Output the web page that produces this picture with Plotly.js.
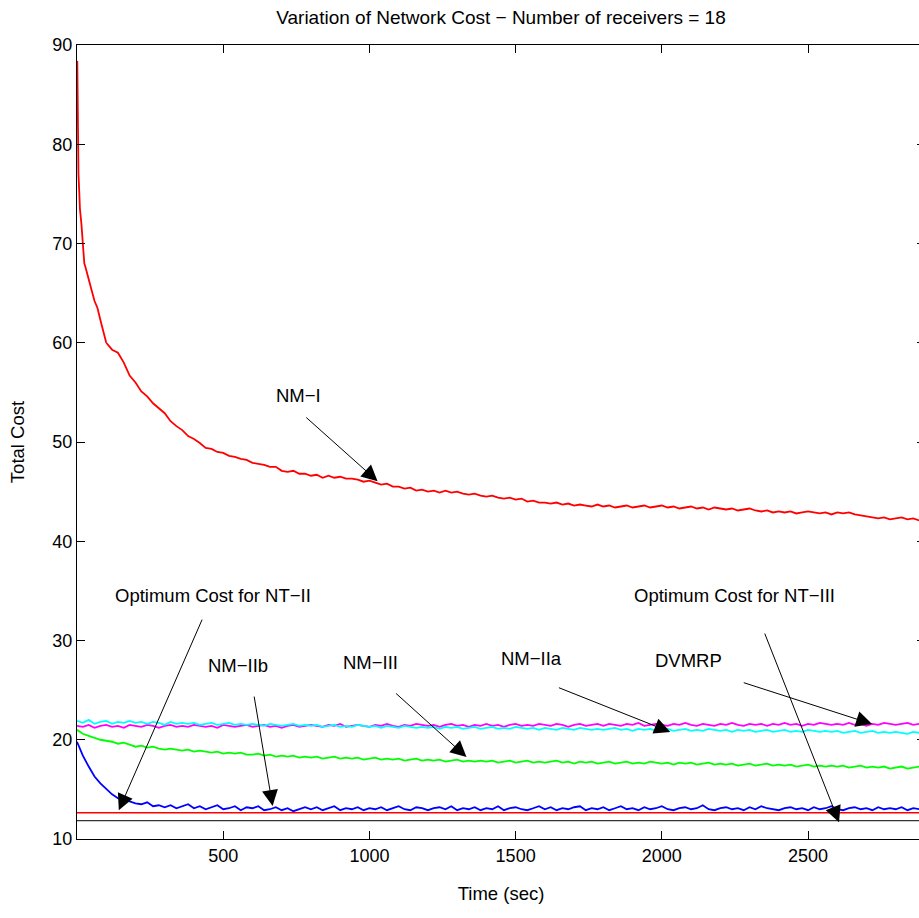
<!DOCTYPE html>
<html>
<head>
<meta charset="utf-8">
<script src="https://cdn.plot.ly/plotly-3.0.1.min.js"></script>
<style>
html,body{margin:0;padding:0;overflow:hidden;background:#fff;}
#chart{width:930px;height:918px;}
</style>
</head>
<body>
<div id="chart"></div>
<script>
// ---- data ----
const xTickVals = [500, 1000, 1500, 2000, 2500];
const yTickVals = [10, 20, 30, 40, 50, 60, 70, 80, 90];

// NM-I (red): early part (explicit times) and later part (every 20 s from 100 s)
const nmIEarlyT = [1, 2, 3, 5, 8, 10, 15, 20, 25, 30, 40, 50, 60, 70, 80, 90, 100];
const nmIEarlyV = [88.4, 84, 80, 77, 75, 73.5, 72, 70, 68, 67.5, 66.5, 65.3, 64.2, 63.5, 62.3, 61, 60];
const nmILateV = [
60.0,59.3,59.0,58.0,56.7,56.0,55.1,54.6,53.9,53.4,
52.9,52.1,51.6,51.2,50.6,50.3,49.9,49.4,49.3,49.0,
48.9,48.6,48.5,48.3,48.2,47.9,47.8,47.7,47.5,47.5,
47.1,47.0,47.1,46.8,46.8,46.6,46.7,46.4,46.6,46.4,
46.5,46.3,46.3,46.2,46.0,46.1,45.9,45.7,45.8,45.5,
45.5,45.3,45.4,45.1,45.2,45.0,45.1,44.9,45.1,44.9,
45.0,44.8,44.7,44.8,44.6,44.5,44.6,44.4,44.3,44.4,
44.2,44.3,44.0,44.1,43.9,43.9,43.8,43.9,43.7,43.8,
43.6,43.7,43.6,43.5,43.7,43.5,43.6,43.4,43.5,43.6,
43.4,43.5,43.6,43.4,43.5,43.6,43.4,43.5,43.3,43.4,
43.5,43.3,43.4,43.2,43.4,43.3,43.2,43.3,43.1,43.2,
43.3,43.1,43.0,43.1,42.9,43.0,42.9,43.0,42.8,42.9,
43.0,42.9,42.8,42.9,42.7,42.9,42.8,42.9,42.7,42.6,
42.5,42.4,42.3,42.4,42.2,42.3,42.4,42.2,42.3,42.1,
42.3];

// DVMRP (magenta), every 20 s from 0 s
const dvmrpV = [
21.4,21.3,21.5,21.2,21.4,21.5,21.3,21.4,21.2,21.5,
21.4,21.3,21.5,21.4,21.2,21.4,21.5,21.3,21.4,21.3,
21.5,21.4,21.3,21.4,21.2,21.5,21.4,21.3,21.4,21.5,
21.3,21.4,21.5,21.3,21.4,21.2,21.4,21.5,21.3,21.4,
21.5,21.4,21.3,21.5,21.4,21.6,21.3,21.4,21.5,21.4,
21.3,21.5,21.4,21.6,21.4,21.3,21.5,21.4,21.6,21.5,
21.4,21.5,21.3,21.5,21.6,21.4,21.5,21.3,21.5,21.4,
21.6,21.4,21.5,21.3,21.5,21.6,21.4,21.5,21.4,21.6,
21.5,21.4,21.6,21.5,21.3,21.5,21.6,21.4,21.5,21.6,
21.4,21.6,21.5,21.4,21.6,21.5,21.7,21.4,21.5,21.6,
21.5,21.4,21.6,21.5,21.7,21.5,21.4,21.6,21.5,21.4,
21.6,21.5,21.7,21.5,21.4,21.6,21.5,21.6,21.4,21.6,
21.5,21.7,21.5,21.6,21.4,21.6,21.5,21.7,21.6,21.5,
21.6,21.5,21.7,21.5,21.6,21.4,21.6,21.5,21.7,21.6,
21.5,21.6,21.7,21.5,21.6,21.6];

// NM-IIa (cyan), every 20 s from 0 s
const nmIIaV = [
21.9,21.7,22.0,21.6,21.8,21.9,21.6,21.8,21.7,21.9,
21.7,21.8,21.6,21.8,21.7,21.5,21.8,21.6,21.7,21.6,
21.7,21.5,21.6,21.7,21.5,21.6,21.7,21.5,21.6,21.5,
21.6,21.5,21.4,21.6,21.5,21.4,21.5,21.6,21.4,21.5,
21.4,21.5,21.3,21.4,21.5,21.3,21.4,21.3,21.5,21.4,
21.3,21.4,21.2,21.4,21.3,21.2,21.4,21.3,21.2,21.3,
21.2,21.3,21.1,21.3,21.2,21.3,21.1,21.2,21.3,21.1,
21.2,21.3,21.1,21.2,21.1,21.3,21.2,21.1,21.2,21.0,
21.2,21.1,21.0,21.2,21.1,21.0,21.2,21.1,21.0,21.1,
21.0,21.1,21.2,21.0,21.1,20.9,21.1,21.0,21.1,20.9,
21.0,21.1,20.9,21.0,21.1,20.9,21.0,20.9,21.1,21.0,
20.9,21.0,20.8,21.0,20.9,21.0,20.8,20.9,21.0,20.8,
20.9,21.0,20.8,20.9,20.8,21.0,20.9,20.8,20.9,20.8,
20.9,20.7,20.8,20.9,20.7,20.8,20.9,20.7,20.8,20.7,
20.8,20.7,20.6,20.8,20.7,20.7];

// NM-III (green), every 20 s from 0 s
const nmIIIV = [
21.0,20.6,20.4,20.2,20.0,19.9,19.8,19.6,19.7,19.5,
19.3,19.4,19.2,19.3,19.1,19.0,19.1,19.0,18.9,19.0,
18.8,18.9,18.8,18.7,18.8,18.6,18.7,18.6,18.7,18.5,
18.5,18.6,18.4,18.5,18.3,18.4,18.3,18.4,18.2,18.3,
18.2,18.3,18.1,18.2,18.3,18.1,18.2,18.1,18.2,18.0,
18.1,18.2,18.0,18.1,18.0,18.1,17.9,18.0,18.1,17.9,
18.0,17.9,18.0,17.8,17.9,18.0,17.8,17.9,17.8,17.9,
17.8,17.9,17.7,17.8,17.9,17.7,17.8,17.9,17.7,17.8,
17.7,17.8,17.9,17.7,17.8,17.6,17.8,17.7,17.8,17.6,
17.7,17.8,17.6,17.7,17.8,17.6,17.7,17.6,17.8,17.7,
17.6,17.7,17.5,17.7,17.6,17.7,17.5,17.6,17.7,17.5,
17.6,17.5,17.6,17.4,17.5,17.6,17.4,17.5,17.6,17.4,
17.5,17.4,17.5,17.3,17.4,17.5,17.3,17.4,17.3,17.4,
17.3,17.4,17.2,17.3,17.4,17.2,17.3,17.2,17.3,17.1,
17.2,17.3,17.1,17.2,17.3,17.2];

// NM-IIb (blue), every 20 s from 0 s
const nmIIbV = [
19.8,18.4,17.3,16.3,15.6,15.0,14.5,14.1,13.9,13.8,
13.6,13.5,13.7,13.3,13.4,13.2,13.4,13.1,13.3,13.5,
13.1,13.3,13.0,13.2,13.4,13.0,13.1,13.3,12.9,13.2,
13.1,13.3,12.9,13.0,13.2,12.9,13.1,12.8,13.0,13.2,
13.0,13.2,12.9,13.1,13.3,12.9,13.1,13.0,13.2,12.9,
13.1,13.0,13.2,12.9,13.1,13.3,13.0,12.9,13.2,13.1,
12.9,13.1,13.2,13.0,13.3,12.9,13.1,13.0,13.2,12.9,
13.1,13.0,13.3,12.9,13.1,13.2,13.0,12.9,13.1,13.3,
13.0,13.2,12.9,13.1,13.0,13.2,13.3,12.9,13.1,13.0,
13.2,12.9,13.1,13.3,13.0,13.1,12.9,13.2,13.0,13.1,
13.3,13.0,12.9,13.1,13.2,13.0,13.1,13.4,13.0,12.9,
13.1,13.2,13.0,13.1,12.9,13.2,13.0,13.3,13.1,13.0,
12.9,13.1,13.2,13.0,13.1,12.9,13.2,13.0,13.1,13.3,
13.0,12.9,13.1,13.2,13.0,13.1,12.9,13.2,13.0,13.1,
13.0,13.2,12.9,13.1,13.0,13.1];

// optimum cost levels
const optSpanT = [0, 2900];
const optNTII = [12.65, 12.65];
const optNTIII = [11.85, 11.85];

// annotation labels
const labelTexts = ["NM\u2212I", "Optimum Cost for NT\u2212II", "NM\u2212IIb", "NM\u2212III", "NM\u2212IIa", "DVMRP", "Optimum Cost for NT\u2212III"];
const labelX = [758, 464, 550, 1004, 1554, 2090, 2247];
const labelY = [54.7, 34.57, 27.5, 27.8, 28.2, 28.0, 34.57];
const arrowTailX = [779, 430, 605, 1086, 1643, 2275, 2350];
const arrowTailY = [52.6, 32.25, 24.5, 24.8, 25.3, 25.8, 30.85];
const arrowTipX = [1028, 143, 669, 1332, 2029, 2719, 2606];
const arrowTipY = [46.05, 12.9, 13.32, 18.26, 20.78, 21.58, 11.7];

// ---- build chart ----
const FONT = "Liberation Sans, Arial, Helvetica, sans-serif";
const lw = 1.8;
const traces = [
  {x: nmIEarlyT, y: nmIEarlyV, mode: 'lines', line: {color: '#ff0000', width: lw}, name: 'NM-I'},
  {y: nmILateV, x0: 100, dx: 20, mode: 'lines', line: {color: '#ff0000', width: lw}, name: 'NM-I'},
  {y: dvmrpV, x0: 0, dx: 20, mode: 'lines', line: {color: '#ff00ff', width: lw}, name: 'DVMRP'},
  {y: nmIIaV, x0: 0, dx: 20, mode: 'lines', line: {color: '#00ffff', width: lw}, name: 'NM-IIa'},
  {y: nmIIIV, x0: 0, dx: 20, mode: 'lines', line: {color: '#00ff00', width: lw}, name: 'NM-III'},
  {y: nmIIbV, x0: 0, dx: 20, mode: 'lines', line: {color: '#0000ff', width: lw}, name: 'NM-IIb'},
  {x: optSpanT, y: optNTII, mode: 'lines', line: {color: '#ff0000', width: 1.5}, name: 'Opt NT-II'},
  {x: optSpanT, y: optNTIII, mode: 'lines', line: {color: '#333333', width: 1.2}, name: 'Opt NT-III'}
];

const annotations = [];
for (let i = 0; i < labelTexts.length; i++) {
  annotations.push({
    x: labelX[i], y: labelY[i], xref: 'x', yref: 'y',
    text: labelTexts[i], showarrow: false,
    font: {family: FONT, size: 18.5, color: '#000'},
    xanchor: 'center', yanchor: 'middle'
  });
  annotations.push({
    x: arrowTipX[i], y: arrowTipY[i], xref: 'x', yref: 'y',
    ax: arrowTailX[i], ay: arrowTailY[i], axref: 'x', ayref: 'y',
    text: '', showarrow: true,
    arrowhead: 2, arrowsize: 3.2, arrowwidth: 1, arrowcolor: '#000'
  });
}

const axisCommon = {
  showgrid: false, zeroline: false,
  showline: true, linecolor: '#000', linewidth: 1,
  mirror: 'ticks', ticks: 'inside', ticklen: 8, tickwidth: 1, tickcolor: '#000',
  tickfont: {family: FONT, size: 18, color: '#000'},
  tickmode: 'array'
};

const layout = {
  width: 930, height: 918,
  margin: {l: 77, r: 5, t: 45, b: 79},
  paper_bgcolor: '#fff', plot_bgcolor: '#fff',
  showlegend: false,
  font: {family: FONT, color: '#000'},
  title: {
    text: "Variation of Network Cost \u2212 Number of receivers = 18",
    font: {family: FONT, size: 19, color: '#000'},
    x: 0.5, xref: 'paper', xanchor: 'center',
    y: 1 - 17 / 918, yref: 'container', yanchor: 'middle'
  },
  xaxis: Object.assign({}, axisCommon, {
    range: [0, 2900], tickvals: xTickVals, ticktext: xTickVals.map(String),
    title: {text: 'Time (sec)', font: {family: FONT, size: 18.5, color: '#000'}, standoff: 22}
  }),
  yaxis: Object.assign({}, axisCommon, {
    range: [10, 90], tickvals: yTickVals, ticktext: yTickVals.map(String),
    title: {text: 'Total Cost', font: {family: FONT, size: 18.5, color: '#000'}, standoff: 22}
  }),
  annotations: annotations
};

Plotly.newPlot('chart', traces, layout, {staticPlot: true, displayModeBar: false});
</script>
</body>
</html>
